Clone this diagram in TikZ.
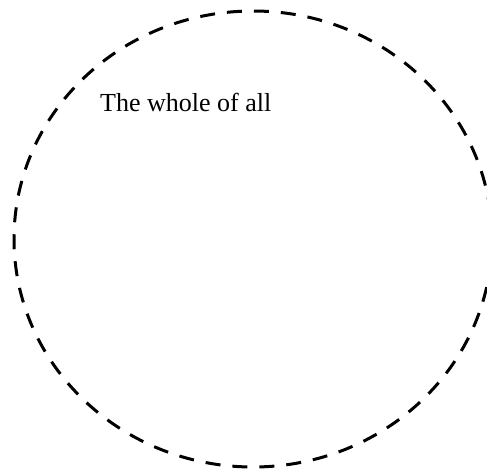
\documentclass[tikz,border=0pt]{standalone}
\usepackage{fontspec}
\setmainfont{Liberation Serif}
\usetikzlibrary{positioning}
\tikzset{
  every picture/.style={x=1pt, y=1pt},
  boundary/.style={draw=black, line width=3pt, dash pattern=on 15pt off 12pt},
  label/.style={font=\fontsize{26}{30}\selectfont, anchor=base west, inner sep=0pt},
}

\begin{document}
\begin{tikzpicture}
  \useasboundingbox (0,0) rectangle (487,472);
  \coordinate (centre) at (253,233);
  \draw[boundary] (centre) ellipse [x radius=239, y radius=228];
  \node[label] (whole) at (100,360) {The whole of all};
\end{tikzpicture}
\end{document}
